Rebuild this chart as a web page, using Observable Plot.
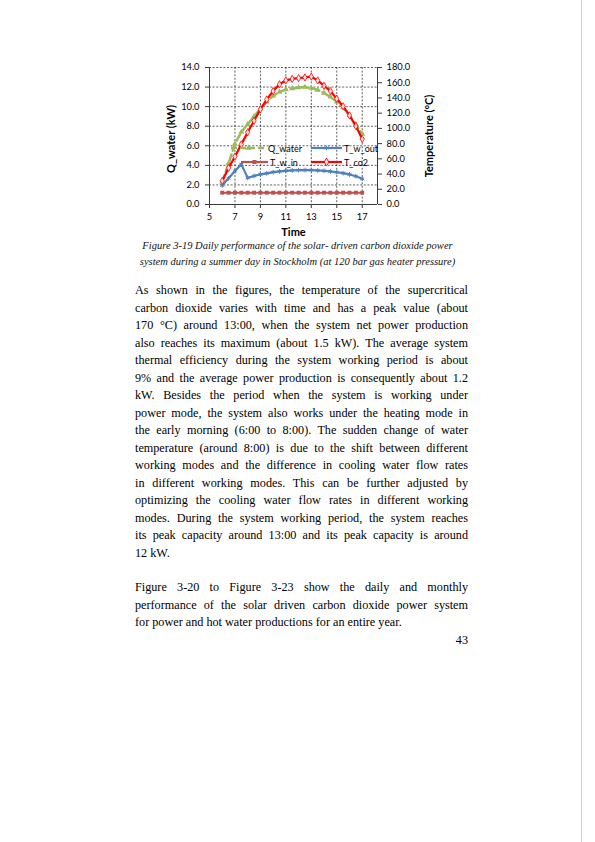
<!DOCTYPE html>
<html><head><meta charset="utf-8">
<script src="https://cdn.jsdelivr.net/npm/d3@7"></script>
<script src="https://cdn.jsdelivr.net/npm/@observablehq/plot@0.6"></script>
<style>
html,body{margin:0;padding:0;background:#fff;}
#page{position:relative;width:595px;height:842px;overflow:hidden;background:#fff;}
#edge{position:absolute;left:581px;top:0;width:1px;height:842px;background:#d0d0d0;}
#chart{position:absolute;left:160px;top:55px;}
.leg{position:absolute;display:flex;align-items:center;font-family:Lato,sans-serif;font-size:9px;color:#000;white-space:nowrap;height:10px;}
.cap{position:absolute;left:0;width:595px;text-align:center;font-family:"Liberation Serif",serif;font-style:italic;font-size:10.5px;line-height:16px;color:#111;}
.body{position:absolute;left:135px;width:333px;font-family:"Liberation Serif",serif;font-size:12.2px;color:#000;}
.ln{height:17.5px;line-height:17.5px;text-align:justify;text-align-last:justify;white-space:nowrap;}
.ln.last{text-align-last:left;}
#pnum{position:absolute;left:400px;width:68px;top:633px;text-align:right;font-family:"Liberation Serif",serif;font-size:12.2px;}
</style></head>
<body><div id="page"><div id="edge"></div><div id="chart"></div></div>
<script>
// ---- data ----
const time    = [6,6.5,7,7.5,8,8.5,9,9.5,10,10.5,11,11.5,12,12.5,13,13.5,14,14.5,15,15.5,16,16.5,17];
const qWater  = [2.3,4.2,6.2,7.4,8.2,9.0,9.8,10.5,11.1,11.5,11.75,11.85,11.95,12.0,11.9,11.7,11.4,11.0,10.5,9.9,9.1,8.2,7.2]; // kW
const tWOut   = [25,34.5,44,53,35,37.5,39.5,41,42.5,43.5,44.3,44.8,45.2,45.3,45.2,44.8,44.2,43.4,42.4,41.2,39.5,37.2,33.7]; // °C
const tWIn    = [15.5,15.5,15.5,15.5,15.5,15.5,15.5,15.5,15.5,15.5,15.5,15.5,15.5,15.5,15.5,15.5,15.5,15.5,15.5,15.5,15.5,15.5,15.5]; // °C
const tCo2    = [31,48,63,79,95,110,125,138,149,158,163,165,166,167,168,163,156,149,139,129,117,103,86]; // °C
const kwTicks   = [0,2,4,6,8,10,12,14];
const tempTicks = [0,20,40,60,80,100,120,140,160,180];
const timeTicks = [5,7,9,11,13,15,17];
const timeDomain = [5,18.2];
const KW_MAX = 14, T_MAX = 180;
const colors = {Q_water:"#9BBB59", T_w_out:"#4F81BD", T_w_in:"#C0504D", T_co2:"#FF0000"};

const toKw = t => t * KW_MAX / T_MAX;
const rows = time.map((t,i)=>({time:t, q:qWater[i], out:tWOut[i], inn:tWIn[i], co2:tCo2[i]}));

const gridStyle = {stroke:"#1a1a1a", strokeOpacity:1, strokeWidth:0.7, strokeDasharray:"2,1.6"};
const axisCol = "#3a3a3a";
const tickFont = 9.3;

const chart = Plot.plot({
  width:280, height:195,
  marginLeft:49, marginRight:63, marginTop:12, marginBottom:46,
  style:{fontFamily:"Lato, sans-serif", fontSize:"9.3px", color:"#000", background:"transparent", overflow:"visible"},
  x:{domain:timeDomain},
  y:{domain:[0,KW_MAX]},
  marks:[
    Plot.gridX(timeTicks.slice(1), gridStyle),
    Plot.gridY(kwTicks.slice(1), gridStyle),
    Plot.ruleX([timeDomain[0]], {stroke:axisCol, strokeWidth:1}),
    Plot.ruleX([timeDomain[1]], {stroke:axisCol, strokeWidth:1}),
    Plot.ruleY([0], {stroke:axisCol, strokeWidth:1}),
    Plot.axisY(kwTicks, {anchor:"left", tickFormat:d=>d.toFixed(1), tickSize:4, tickPadding:6, stroke:axisCol, fontSize:tickFont, label:null}),
    Plot.axisY(tempTicks.map(toKw), {anchor:"right", tickFormat:d=>(d*T_MAX/KW_MAX).toFixed(1), tickSize:4, tickPadding:5, stroke:axisCol, fontSize:tickFont, label:null}),
    Plot.axisX(timeTicks, {tickSize:4, tickPadding:5, stroke:axisCol, fontSize:tickFont, label:null}),
    Plot.text(["Q_water (kW)"], {frameAnchor:"left", textAnchor:"middle", rotate:-90, dx:-38, dy:3, fontWeight:"bold", fontSize:11}),
    Plot.text(["Temperature (°C)"], {frameAnchor:"right", textAnchor:"middle", rotate:-90, dx:52, fontWeight:"bold", fontSize:11}),
    Plot.text(["Time"], {frameAnchor:"bottom", dy:31, fontWeight:"bold", fontSize:11}),
    // Q_water
    Plot.line(rows, {x:"time", y:"q", stroke:colors.Q_water, strokeWidth:2.5, strokeDasharray:"7,4"}),
    Plot.dot(rows, {x:"time", y:"q", symbol:"triangle", r:2.2, fill:colors.Q_water}),
    // T_w_out
    Plot.line(rows, {x:"time", y:d=>toKw(d.out), stroke:colors.T_w_out, strokeWidth:2.2}),
    Plot.dot(rows, {x:"time", y:d=>toKw(d.out), symbol:"asterisk", r:2.2, stroke:colors.T_w_out, strokeWidth:1}),
    // T_w_in
    Plot.line(rows, {x:"time", y:d=>toKw(d.inn), stroke:colors.T_w_in, strokeWidth:2}),
    Plot.dot(rows, {x:"time", y:d=>toKw(d.inn), symbol:"square", r:2.2, fill:colors.T_w_in}),
    // T_co2
    Plot.line(rows, {x:"time", y:d=>toKw(d.co2), stroke:colors.T_co2, strokeWidth:2.2}),
    Plot.dot(rows, {x:"time", y:d=>toKw(d.co2), symbol:"diamond", r:2.2, stroke:colors.T_co2, fill:"#FFE4E4", strokeWidth:0.8})
  ]
});
document.getElementById("chart").appendChild(chart);

// ---- legend (inside plot area, 2x2) ----
const legendLayout = [
  {name:"Q_water", left:231, top:143, sw:35, symbol:d3.symbolTriangle, dash:"6,3", fillSym:true},
  {name:"T_w_out", left:311, top:143, sw:31, symbol:d3.symbolAsterisk, dash:null, fillSym:false},
  {name:"T_w_in",  left:241, top:157, sw:27, symbol:d3.symbolSquare, dash:null, fillSym:true},
  {name:"T_co2",   left:311, top:157, sw:31, symbol:d3.symbolDiamond, dash:null, fillSym:false}
];
const page = d3.select("#page");
legendLayout.forEach(e=>{
  const c = colors[e.name];
  const div = page.append("div").attr("class","leg").style("left",e.left+"px").style("top",e.top+"px");
  const svg = div.append("svg").attr("width",e.sw).attr("height",10).style("margin-right","2px");
  svg.append("line").attr("x1",0).attr("x2",e.sw).attr("y1",5).attr("y2",5)
    .attr("stroke",c).attr("stroke-width", e.name==="Q_water"?2.5:2.2).attr("stroke-dasharray",e.dash);
  const sz = e.name==="T_co2"?18:16;
  svg.append("path").attr("d",d3.symbol(e.symbol, sz)()).attr("transform",`translate(${e.sw/2},5)`)
    .attr("fill", e.fillSym?c:(e.name==="T_co2"?"#FFE4E4":"none")).attr("stroke", e.fillSym?"none":c).attr("stroke-width",0.9);
  div.append("span").text(e.name);
});

// ---- caption and text ----
const caption = [
  "Figure 3-19 Daily performance of the solar- driven carbon dioxide power",
  "system during a summer day in Stockholm (at 120 bar gas heater pressure)"
];
const para1 = [
  "As shown in the figures, the temperature of the supercritical",
  "carbon dioxide varies with time and has a peak value (about",
  "170 °C) around 13:00, when the system net power production",
  "also reaches its maximum (about 1.5 kW). The average system",
  "thermal efficiency during the system working period is about",
  "9% and the average power production is consequently about 1.2",
  "kW. Besides the period when the system is working under",
  "power mode, the system also works under the heating mode in",
  "the early morning (6:00 to 8:00). The sudden change of water",
  "temperature (around 8:00) is due to the shift between different",
  "working modes and the difference in cooling water flow rates",
  "in different working modes. This can be further adjusted by",
  "optimizing the cooling water flow rates in different working",
  "modes. During the system working period, the system reaches",
  "its peak capacity around 13:00 and its peak capacity is around",
  "12 kW."
];
const para2 = [
  "Figure 3-20 to Figure 3-23 show the daily and monthly",
  "performance of the solar driven carbon dioxide power system",
  "for power and hot water productions for an entire year."
];
const cap = page.append("div").attr("class","cap").style("top","238px");
caption.forEach(l=>cap.append("div").text(l));
function para(lines, top){
  const b = page.append("div").attr("class","body").style("top",top+"px");
  lines.forEach((l,i)=>b.append("div").attr("class","ln"+(i===lines.length-1?" last":"")).text(l));
}
para(para1, 282);
para(para2, 579);
page.append("div").attr("id","pnum").text("43");
</script>
</body></html>
